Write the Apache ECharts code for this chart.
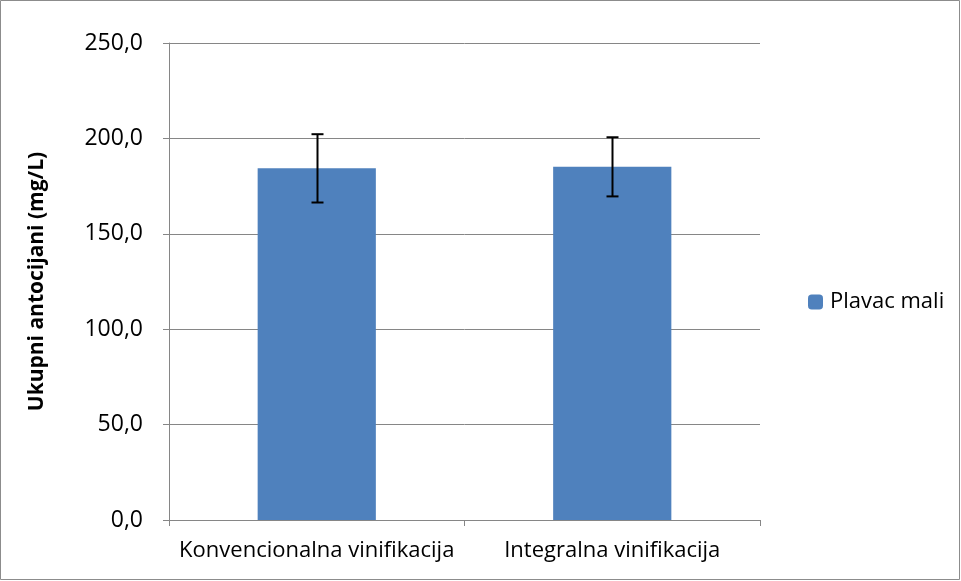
<!DOCTYPE html>
<html><head><meta charset="utf-8">
<script src="https://cdn.jsdelivr.net/npm/echarts@6/dist/echarts.min.js"></script>
<style>html,body{margin:0;padding:0;background:#fff}#c{width:961px;height:581px}</style>
</head><body><div id="c"></div>
<script>
const categories = ['Konvencionalna vinifikacija', 'Integralna vinifikacija'];
const values = [184.3, 185.1];
const errors = [17.9, 15.5];
const seriesName = 'Plavac mali';
const yTicks = {min: 0, max: 250, interval: 50};

const FONT = '"Open Sans", "Noto Sans", sans-serif';
const chart = echarts.init(document.getElementById('c'), null, {renderer: 'canvas'});
chart.setOption({
  animation: false,
  backgroundColor: '#fff',
  graphic: [{type: 'rect', shape: {x: 0.5, y: 0.5, width: 959, height: 579}, style: {fill: 'none', stroke: '#8c8c8c', lineWidth: 1}}],
  grid: {left: 169, right: 201, top: 43, bottom: 61},
  legend: {
    data: [seriesName], orient: 'vertical', left: 803, top: 286,
    itemWidth: 15, itemHeight: 15, itemGap: 8,
    textStyle: {fontFamily: FONT, fontSize: 22, color: '#000', padding: [0, 0, 0, 2]}
  },
  xAxis: {
    type: 'category', data: categories,
    axisLine: {lineStyle: {color: '#868686'}},
    axisTick: {show: true, length: 6, lineStyle: {color: '#868686'}, alignWithLabel: false},
    axisLabel: {fontFamily: FONT, fontSize: 22, color: '#000', margin: 20, interval: 0}
  },
  yAxis: {
    type: 'value', min: yTicks.min, max: yTicks.max, interval: yTicks.interval,
    name: 'Ukupni antocijani (mg/L)', nameLocation: 'middle', nameGap: 121,
    nameTextStyle: {fontFamily: FONT, fontSize: 21, fontWeight: 'bold', color: '#000'},
    axisLine: {show: true, lineStyle: {color: '#868686'}},
    axisTick: {show: true, length: 6, lineStyle: {color: '#868686'}},
    splitLine: {lineStyle: {color: '#868686'}},
    axisLabel: {fontFamily: FONT, fontSize: 23, color: '#000', margin: 26,
      formatter: v => v.toFixed(1).replace('.', ',')}
  },
  series: [
    {name: seriesName, type: 'bar', data: values, barWidth: '40%',
     itemStyle: {color: '#4f81bd'}},
    {type: 'custom', silent: true, z: 10,
     data: values.map((v, i) => [i, v - errors[i], v + errors[i]]),
     renderItem: function (params, api) {
       const lo = api.coord([api.value(0), api.value(1)]);
       const hi = api.coord([api.value(0), api.value(2)]);
       const x = Math.round(lo[0]) + 0.5, hw = 6;
       const st = {stroke: '#000', lineWidth: 2};
       return {type: 'group', children: [
         {type: 'line', shape: {x1: x, y1: hi[1], x2: x, y2: lo[1]}, style: st},
         {type: 'line', shape: {x1: x - hw, y1: hi[1], x2: x + hw, y2: hi[1]}, style: st},
         {type: 'line', shape: {x1: x - hw, y1: lo[1], x2: x + hw, y2: lo[1]}, style: st}
       ]};
     }}
  ]
});
</script></body></html>
